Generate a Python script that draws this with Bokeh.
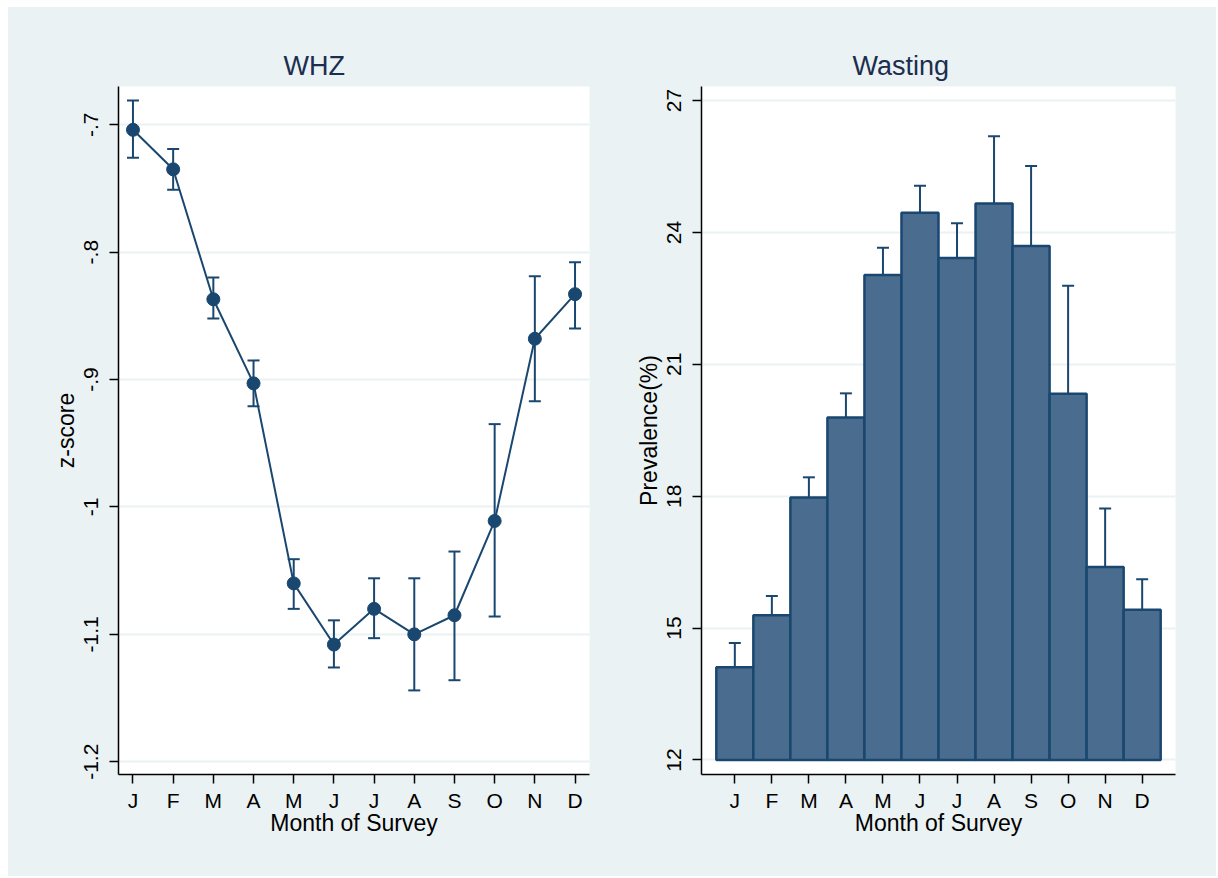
from bokeh.plotting import figure
from bokeh.layouts import row
from bokeh.models import ColumnDataSource, Whisker, TeeHead, FixedTicker, Title
from bokeh.embed import file_html
from bokeh.resources import INLINE

# ---- data ----
months = ["J", "F", "M", "A", "M", "J", "J", "A", "S", "O", "N", "D"]
month_num = [1, 2, 3, 4, 5, 6, 7, 8, 9, 10, 11, 12]

whz_mean = [-0.704, -0.735, -0.837, -0.903, -1.060, -1.108, -1.080, -1.100, -1.085, -1.011, -0.868, -0.833]
whz_upper = [-0.681, -0.719, -0.820, -0.885, -1.041, -1.089, -1.056, -1.056, -1.035, -0.935, -0.819, -0.808]
whz_lower = [-0.726, -0.751, -0.852, -0.921, -1.080, -1.126, -1.103, -1.144, -1.136, -1.086, -0.917, -0.860]

wasting = [14.11, 15.29, 17.97, 19.79, 23.03, 24.45, 23.42, 24.66, 23.69, 20.33, 16.39, 15.42]
wasting_upper = [14.66, 15.73, 18.43, 20.34, 23.65, 25.06, 24.21, 26.19, 25.51, 22.79, 17.72, 16.11]
wasting_lower = [13.60, 14.88, 17.51, 19.27, 22.45, 23.85, 22.67, 23.15, 21.89, 17.90, 15.10, 14.76]

whz_ticks = [-1.2, -1.1, -1.0, -0.9, -0.8, -0.7]
whz_tick_labels = ["-1.2", "-1.1", "-1", "-.9", "-.8", "-.7"]
wasting_ticks = [12, 15, 18, 21, 24, 27]
wasting_base = 12

# ---- style ----
BG = "#EAF2F3"
NAVY = "#1A476F"
BARFILL = "#4A6D8F"
TITLE_C = "#1C2E4F"
FONT = "Liberation Sans"

def style(p, title, offset, ylabel):
    p.add_layout(Title(text=title, align="left", offset=offset, text_font=FONT,
                       text_font_size="27px", text_font_style="normal",
                       text_color=TITLE_C, standoff=11), "above")
    p.border_fill_color = BG
    p.background_fill_color = "white"
    p.outline_line_color = None
    p.xgrid.grid_line_color = None
    p.ygrid.grid_line_color = BG
    p.ygrid.grid_line_width = 2
    for ax in (p.xaxis[0], p.yaxis[0]):
        ax.axis_line_color = "black"
        ax.axis_line_width = 1.5
        ax.major_tick_line_color = "black"
        ax.major_tick_line_width = 1.5
        ax.major_tick_out = 9
        ax.major_tick_in = 0
        ax.minor_tick_line_color = None
        ax.major_label_text_font = FONT
        ax.major_label_text_font_size = "21px"
        ax.major_label_text_color = "black"
        ax.axis_label_text_font = FONT
        ax.axis_label_text_font_size = "23px"
        ax.axis_label_text_font_style = "normal"
        ax.axis_label_text_color = "black"
    p.xaxis.ticker = FixedTicker(ticks=month_num)
    p.xaxis.major_label_overrides = {m: lab for m, lab in zip(month_num, months)}
    p.xaxis.axis_label = "Month of Survey"
    p.xaxis.major_label_standoff = 5
    p.xaxis.axis_label_standoff = -5
    p.yaxis.axis_label = ylabel
    p.yaxis.major_label_orientation = "vertical"
    p.yaxis.major_label_standoff = 11
    p.yaxis.axis_label_standoff = 3


# ---- left panel: WHZ ----
src1 = ColumnDataSource(dict(x=month_num, y=whz_mean, lo=whz_lower, hi=whz_upper))
p1 = figure(width=604, height=869, x_range=(0.64, 12.36), y_range=(-1.210, -0.670),
            output_backend="svg", toolbar_location=None,
            min_border_left=110, min_border_right=23, min_border_top=79, min_border_bottom=102)
style(p1, "WHZ", 165, "z-score")
p1.yaxis.ticker = FixedTicker(ticks=whz_ticks)
p1.yaxis.major_label_overrides = {t: lab for t, lab in zip(whz_ticks, whz_tick_labels)}
p1.add_layout(Whisker(source=src1, base="x", upper="hi", lower="lo",
                      line_color=NAVY, line_width=2,
                      upper_head=TeeHead(size=12, line_color=NAVY, line_width=2),
                      lower_head=TeeHead(size=12, line_color=NAVY, line_width=2)))
p1.line("x", "y", source=src1, line_color=NAVY, line_width=2)
p1.scatter("x", "y", source=src1, size=13, marker="circle", fill_color=NAVY, line_color=NAVY)

# ---- right panel: Wasting ----
src2 = ColumnDataSource(dict(x=month_num, top=wasting, lo=wasting_lower, hi=wasting_upper))
p2 = figure(width=604, height=869, x_range=(0.1, 12.9), y_range=(11.67, 27.32),
            output_backend="svg", toolbar_location=None,
            min_border_left=89, min_border_right=41, min_border_top=79, min_border_bottom=102)
style(p2, "Wasting", 151, "Prevalence(%)")
p2.yaxis.ticker = FixedTicker(ticks=wasting_ticks)
p2.vbar(x="x", top="top", bottom=wasting_base, width=1.0, source=src2,
        fill_color=BARFILL, line_color=NAVY, line_width=2.5)
p2.add_layout(Whisker(source=src2, base="x", upper="hi", lower="lo",
                      line_color=NAVY, line_width=2,
                      upper_head=TeeHead(size=12, line_color=NAVY, line_width=2),
                      lower_head=TeeHead(size=12, line_color=NAVY, line_width=2)))

layout = row(p1, p2, margin=(7, 0, 0, 8), styles={"background-color": BG})
open("out.html", "w").write(file_html(layout, INLINE))
